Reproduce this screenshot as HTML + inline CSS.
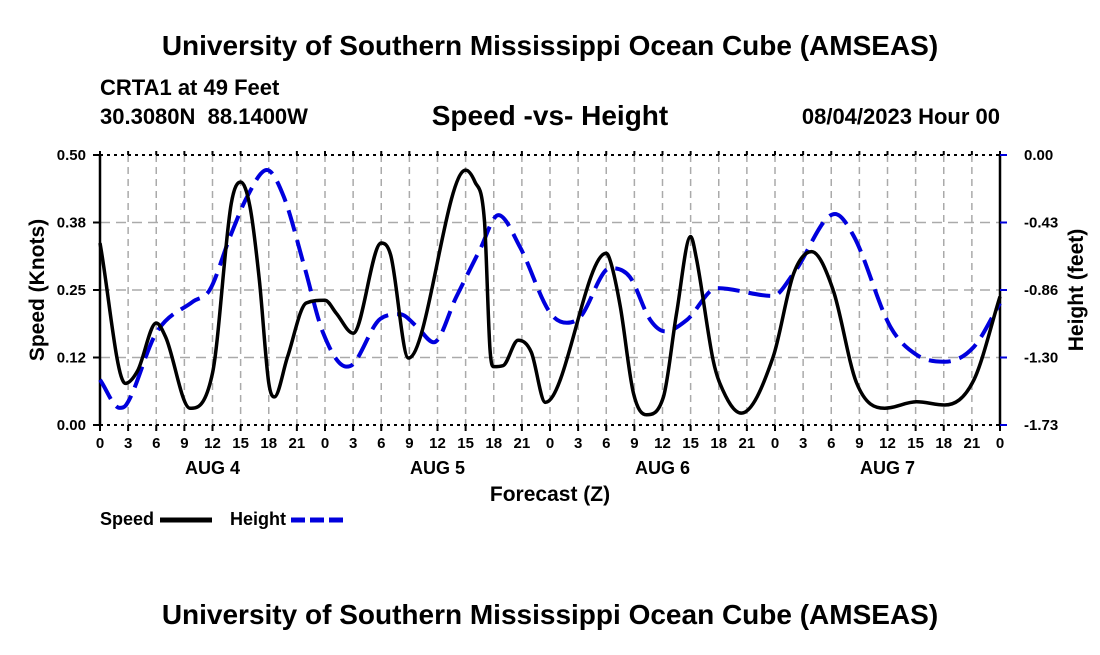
<!DOCTYPE html>
<html><head><meta charset="utf-8"><style>
body{margin:0;background:#fff;}
svg text{font-family:"Liberation Sans",sans-serif;font-weight:bold;fill:#000;}
</style></head><body>
<svg width="1100" height="650" viewBox="0 0 1100 650">
<text x="550" y="55" font-size="28" text-anchor="middle">University of Southern Mississippi Ocean Cube (AMSEAS)</text>
<text x="100" y="95" font-size="22">CRTA1 at 49 Feet</text>
<text x="100" y="124" font-size="22" xml:space="preserve">30.3080N  88.1400W</text>
<text x="550" y="125" font-size="28" text-anchor="middle">Speed -vs- Height</text>
<text x="1000" y="124" font-size="22" text-anchor="end">08/04/2023 Hour 00</text>
<g id="grid"></g>
<g id="axes"></g>
<g id="series"></g>
<text transform="translate(44,290) rotate(-90)" font-size="21" text-anchor="middle">Speed (Knots)</text>
<text transform="translate(1083,290) rotate(-90)" font-size="21" text-anchor="middle">Height (feet)</text>
<text x="550" y="501" font-size="21" text-anchor="middle">Forecast (Z)</text>
<g>
<text x="100" y="525" font-size="18">Speed</text>
<line x1="160" y1="520" x2="212" y2="520" stroke="#000" stroke-width="5"/>
<text x="230" y="525" font-size="18">Height</text>
<line x1="291" y1="520" x2="343" y2="520" stroke="#0000dd" stroke-width="5" stroke-dasharray="14,5"/>
</g>
<text x="550" y="624" font-size="28" text-anchor="middle">University of Southern Mississippi Ocean Cube (AMSEAS)</text>
</svg>
<script>
const speedHours=[0,2.7,4,6,7,9.6,12,14,15,16,17,18,18.6,20,22,24,25.2,27,30,31,32.9,39,40,41,41.6,42,43,44.6,46,47.5,54,54.5,55.5,56.9,58.3,60.1,61.5,63,63.6,65.4,66.1,68.4,71.8,74,75.9,78.2,80.7,83.7,87.1,90.1,93.2,96];
const speedVals=[0.337,0.077,0.10,0.189,0.163,0.031,0.096,0.41,0.45,0.404,0.268,0.078,0.052,0.126,0.226,0.231,0.207,0.17,0.337,0.315,0.124,0.472,0.45,0.38,0.14,0.108,0.11,0.157,0.135,0.042,0.318,0.30,0.219,0.059,0.019,0.052,0.207,0.349,0.31,0.12,0.078,0.022,0.126,0.281,0.321,0.25,0.078,0.031,0.043,0.037,0.083,0.238];
const heightHours=[0,2.1,2.8,6,9.9,11.7,13.9,15.7,17.8,19.6,21.8,23.8,26.3,27,29.9,32,33.8,35.6,38,40.5,42.5,44.8,48,49.8,51.2,54.4,56.5,58.7,60.3,62.6,65.8,71.8,74,78.4,80.4,84.3,87.1,90.1,93.2,96];
const heightVals=[-1.44,-1.62,-1.60,-1.14,-0.94,-0.865,-0.52,-0.267,-0.096,-0.267,-0.715,-1.14,-1.356,-1.34,-1.05,-1.02,-1.10,-1.20,-0.91,-0.61,-0.385,-0.59,-1.01,-1.075,-1.04,-0.725,-0.78,-1.057,-1.13,-1.057,-0.853,-0.903,-0.757,-0.378,-0.52,-1.10,-1.28,-1.325,-1.23,-0.95];
const leftTicks=["0.00","0.12","0.25","0.38","0.50"];
const rightTicks=["-1.73","-1.30","-0.86","-0.43","0.00"];
const dayLabels=["AUG 4","AUG 5","AUG 6","AUG 7"];
const L=100,R=1000,T=155,B=425,NS="http://www.w3.org/2000/svg";
const xS=h=>L+h/96*(R-L);
const yS=v=>B-v/0.5*(B-T);
const yH=v=>T+(-v)/1.73*(B-T);
function mk(tag,attrs,parent){const e=document.createElementNS(NS,tag);for(const k in attrs)e.setAttribute(k,attrs[k]);parent.appendChild(e);return e;}
const grid=document.getElementById('grid'),axes=document.getElementById('axes'),ser=document.getElementById('series');
for(let i=1;i<32;i++){const x=xS(i*3);const l=mk('line',{x1:x,x2:x,y1:T,y2:B,stroke:'#aaa','stroke-width':1.5,'stroke-dasharray':'7,5'},grid);

}
for(let i=1;i<4;i++){const y=B-i*(B-T)/4;const l=mk('line',{x1:L,x2:R,y1:y,y2:y,stroke:'#aaa','stroke-width':1.5,'stroke-dasharray':'10,6'},grid);

}
mk('line',{x1:L,x2:R,y1:T,y2:T,stroke:'#000','stroke-width':2,'stroke-dasharray':'3,4'},axes);
mk('line',{x1:L,x2:R,y1:B,y2:B,stroke:'#000','stroke-width':2,'stroke-dasharray':'3,4'},axes);
mk('line',{x1:L,x2:L,y1:T,y2:B,stroke:'#000','stroke-width':2.5},axes);
mk('line',{x1:R,x2:R,y1:T,y2:B,stroke:'#000','stroke-width':2.5},axes);
for(let i=0;i<=32;i++){const x=xS(i*3);mk('line',{x1:x,x2:x,y1:B,y2:B+6,stroke:'#000','stroke-width':2},axes);mk('line',{x1:x,x2:x,y1:T-4,y2:T,stroke:'#000','stroke-width':2},axes);
const t=mk('text',{x:x,y:448,'font-size':15,'text-anchor':'middle'},axes);t.textContent=String((i*3)%24);

}
dayLabels.forEach((d,i)=>{const t=mk('text',{x:xS(i*24+12),y:474,'font-size':18,'text-anchor':'middle'},axes);t.textContent=d;

});
for(let i=0;i<5;i++){const y=B-i*(B-T)/4;
mk('line',{x1:L-7,x2:L,y1:y,y2:y,stroke:'#000','stroke-width':2},axes);
mk('line',{x1:R,x2:R+7,y1:y,y2:y,stroke:'#00d','stroke-width':2},axes);
const a=mk('text',{x:86,y:y+5,'font-size':15,'text-anchor':'end'},axes);a.textContent=leftTicks[i];


const b=mk('text',{x:1024,y:y+5,'font-size':15},axes);b.textContent=rightTicks[i];

}
function monotone(pts){const n=pts.length,d=[],m=[];
for(let i=0;i<n-1;i++)d.push((pts[i+1][1]-pts[i][1])/(pts[i+1][0]-pts[i][0]));
m[0]=d[0];m[n-1]=d[n-2];
for(let i=1;i<n-1;i++){m[i]=(d[i-1]*d[i]<=0)?0:(d[i-1]+d[i])/2;}
for(let i=0;i<n-1;i++){if(d[i]===0){m[i]=0;m[i+1]=0;continue;}const a=m[i]/d[i],b=m[i+1]/d[i],s=a*a+b*b;if(s>9){const t=3/Math.sqrt(s);m[i]=t*a*d[i];m[i+1]=t*b*d[i];}}
let p='M'+pts[0][0]+','+pts[0][1];
for(let i=0;i<n-1;i++){const h=(pts[i+1][0]-pts[i][0])/3;
p+=' C'+(pts[i][0]+h)+','+(pts[i][1]+m[i]*h)+' '+(pts[i+1][0]-h)+','+(pts[i+1][1]-m[i+1]*h)+' '+pts[i+1][0]+','+pts[i+1][1];}
return p;}
const hp=mk('path',{d:monotone(heightHours.map((h,i)=>[xS(h),yH(heightVals[i])])),fill:'none',stroke:'#0000dd','stroke-width':4,'stroke-dasharray':'22,9'},ser);


const sp=mk('path',{d:monotone(speedHours.map((h,i)=>[xS(h),yS(speedVals[i])])),fill:'none',stroke:'#000','stroke-width':3.5},ser);


</script>
</body></html>
